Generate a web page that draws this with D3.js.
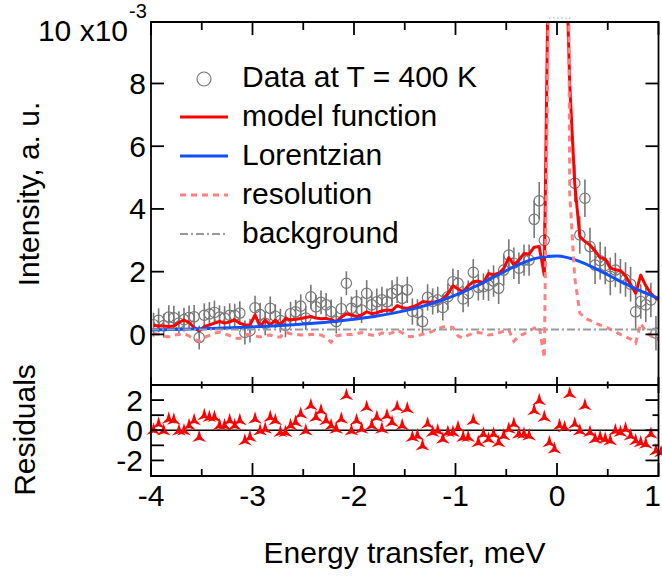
<!DOCTYPE html>
<html><head><meta charset="utf-8">
<script src="https://cdn.jsdelivr.net/npm/d3@7"></script>
<style>
html,body{margin:0;padding:0;background:#fff;}
svg{display:block;font-family:"Liberation Sans",Arial,Helvetica,sans-serif;}
</style></head>
<body><svg id="c" width="662" height="576"></svg>
<script>
// ---------- data ----------
const energy = [
-3.975,-3.925,-3.875,-3.825,-3.775,-3.725,-3.675,-3.625,-3.575,-3.525,
-3.475,-3.425,-3.375,-3.325,-3.275,-3.225,-3.175,-3.125,-3.075,-3.025,
-2.975,-2.925,-2.875,-2.825,-2.775,-2.725,-2.675,-2.625,-2.575,-2.525,
-2.475,-2.425,-2.375,-2.325,-2.275,-2.225,-2.175,-2.125,-2.075,-2.025,
-1.975,-1.925,-1.875,-1.825,-1.775,-1.725,-1.675,-1.625,-1.575,-1.525,
-1.475,-1.425,-1.375,-1.325,-1.275,-1.225,-1.175,-1.125,-1.075,-1.025,
-0.975,-0.925,-0.875,-0.825,-0.775,-0.725,-0.675,-0.625,-0.575,-0.525,
-0.475,-0.425,-0.375,-0.325,-0.275,-0.225,-0.175,-0.125,-0.075,-0.025,
0.025,0.075,0.125,0.175,0.225,0.275,0.325,0.375,0.425,0.475,
0.525,0.575,0.625,0.675,0.725,0.775,0.825,0.875,0.925,0.975,
1.025];
// measured intensity (x1e-3) and its error
const intensity = [
0.31,0.45,0.28,0.55,0.53,0.36,0.47,0.54,0.56,-0.10,
0.61,0.65,0.70,0.55,0.52,0.61,0.60,0.68,0.06,0.12,
0.85,0.63,0.35,0.83,0.58,0.44,0.29,0.66,0.72,0.90,
0.52,1.20,0.88,1.02,0.94,0.73,0.41,0.82,1.63,0.83,
1.04,0.78,1.31,0.94,1.04,1.10,1.04,1.31,1.42,1.15,
1.42,0.73,0.70,0.41,1.18,1.05,1.10,0.86,1.20,1.68,
1.63,1.13,1.30,1.98,1.50,1.52,1.57,1.70,1.47,2.05,
2.53,2.27,2.11,2.37,2.37,3.67,4.26,3.00,14.0,38.0,
52.0,33.0,12.5,4.82,3.17,4.34,2.80,2.21,2.35,2.20,
1.85,2.05,1.85,1.75,1.60,0.72,1.05,0.94,1.10,0.04];
const intensityErr = [
0.38,0.38,0.38,0.38,0.38,0.38,0.38,0.38,0.38,0.38,
0.38,0.38,0.38,0.38,0.38,0.38,0.38,0.38,0.38,0.38,
0.38,0.38,0.38,0.38,0.38,0.38,0.38,0.38,0.38,0.38,
0.38,0.38,0.38,0.38,0.38,0.38,0.38,0.38,0.38,0.38,
0.38,0.42,0.42,0.42,0.42,0.42,0.42,0.42,0.42,0.42,
0.42,0.42,0.42,0.42,0.42,0.42,0.42,0.42,0.42,0.42,
0.42,0.42,0.42,0.42,0.42,0.42,0.50,0.50,0.50,0.50,
0.50,0.50,0.50,0.50,0.50,0.60,0.60,0.60,0.80,0.80,
0.80,0.80,0.80,0.60,0.60,0.60,0.60,0.60,0.60,0.60,
0.60,0.55,0.55,0.55,0.55,0.55,0.55,0.55,0.55,0.55];
// model function
const model = [
0.28,0.27,0.27,0.25,0.27,0.38,0.46,0.38,0.22,0.11,
0.25,0.30,0.36,0.41,0.36,0.40,0.46,0.36,0.30,0.30,
0.62,0.25,0.46,0.30,0.46,0.30,0.51,0.46,0.48,0.51,
0.54,0.57,0.52,0.50,0.51,0.47,0.40,0.55,0.66,0.62,
0.57,0.62,0.72,0.66,0.69,0.75,0.78,0.76,0.92,0.85,
0.83,0.88,0.94,1.04,1.03,1.02,1.06,1.12,1.30,1.55,
1.45,1.35,1.55,1.68,1.70,1.64,1.94,1.90,1.95,2.10,
2.45,2.22,2.37,2.58,2.56,2.78,2.80,1.89,14.5,60.0,
85.0,14.0,8.0,4.8,3.12,2.96,2.85,2.66,2.45,2.40,
2.12,2.06,2.04,1.86,1.60,1.31,1.89,1.55,1.30,1.15,
1.08];
// resolution function
const resolution = [
0.03,0.00,-0.05,-0.08,-0.02,0.00,0.02,-0.05,-0.15,-0.22,
-0.10,-0.03,0.04,0.07,0.02,-0.04,-0.12,-0.13,-0.02,0.01,
-0.05,-0.08,-0.03,-0.02,-0.08,-0.08,0.07,0.02,0.00,-0.02,
-0.02,0.00,0.00,-0.02,-0.10,-0.25,-0.05,-0.02,0.00,0.00,
0.02,0.06,0.00,-0.02,-0.05,0.05,0.00,0.05,0.14,0.05,
-0.07,-0.07,-0.04,0.00,0.03,0.10,0.18,0.24,0.25,0.22,
-0.05,-0.12,-0.02,0.03,0.06,0.03,-0.02,0.00,0.05,0.10,
0.14,-0.22,-0.05,0.02,0.10,0.20,0.25,-0.75,13.0,45.0,
70.0,40.0,4.5,1.8,0.68,0.52,0.45,0.36,0.30,0.25,
0.16,0.09,0.00,-0.07,-0.15,-0.28,0.35,0.10,-0.05,-0.18,
-0.10];
// residuals
const residuals = [
0.07,0.47,0.02,0.80,0.73,0.02,0.02,0.36,0.69,-0.42,
1.02,0.91,0.91,0.36,0.36,0.69,0.36,0.69,-0.64,-0.42,
0.80,0.02,0.13,0.91,0.69,-0.09,-0.09,0.36,0.58,1.13,
0.02,1.69,0.91,1.36,0.69,0.36,0.13,0.80,2.36,0.02,
0.69,0.13,1.58,0.36,0.91,0.13,1.02,0.58,1.58,0.36,
1.47,-0.42,-0.31,-0.98,0.47,-0.09,0.02,-0.53,-0.09,-0.09,
0.24,-0.42,-0.42,0.69,-0.76,-0.20,-0.53,-0.20,-0.76,-0.31,
0.13,0.47,-0.20,-0.20,-0.31,1.36,2.02,0.91,-0.76,-1.20,
0.36,0.24,2.47,0.47,0.02,1.69,-0.09,-0.53,-0.42,-0.53,
-0.64,0.02,-0.09,0.13,-0.31,-0.64,-0.76,-0.87,-0.20,-1.31,
-1.42];
// Lorentzian component
const lorentzE = [-4,-3.8,-3.6,-3.4,-3.2,-3,-2.8,-2.6,-2.4,-2.2,-2,-1.8,-1.6,-1.4,-1.2,-1,-0.8,-0.6,-0.4,-0.2,0,0.2,0.4,0.6,0.8,1];
const lorentz = [0.139,0.153,0.170,0.189,0.211,0.238,0.270,0.308,0.355,0.413,0.484,0.573,0.687,0.831,1.016,1.25,1.536,1.865,2.191,2.432,2.496,2.353,2.066,1.731,1.416,1.150];
// background
const bgE = [-4, 1];
const bgVal = [0.16, 0.16];
// ticks / labels
const xTicks = [-4,-3,-2,-1,0,1];
const xMinor = [-3.5,-2.5,-1.5,-0.5,0.5];
const yTicks = [0,2,4,6,8];
const rTicks = [-2,0,2];
const rMinor = [-1,1];
const legendLabels = ["Data at T = 400 K","model function","Lorentzian","resolution","background"];

// ---------- scales ----------
const svg = d3.select("#c");
const L = 151, R = 658.5, T = 22, MB = 362, RT = 385, RB = 476;
const x = d3.scaleLinear().domain([-4,1]).range([L,R]);
const y = d3.scaleLinear().domain([-0.88,9.96]).range([MB,T]);
const yr = d3.scaleLinear().domain([-3,3]).range([475.5,RT]);

const RED="#ff0000", BLUE="#1050ff", PINK="#ff8080", GRAY="#999999", DGRAY="#777777";

svg.append("defs").append("clipPath").attr("id","mainclip")
  .append("rect").attr("x",L).attr("y",T).attr("width",R-L).attr("height",MB-T);

const main = svg.append("g").attr("clip-path","url(#mainclip)");

// data: error bars and circles
const pts = intensity.map((v,i)=>({e:energy[i], v, s:intensityErr[i]}));
main.append("g").selectAll("line").data(pts).join("line")
  .attr("x1",d=>x(d.e)).attr("x2",d=>x(d.e))
  .attr("y1",d=>y(d.v-d.s)).attr("y2",d=>y(d.v+d.s))
  .attr("stroke",DGRAY).attr("stroke-width",1.6);
main.append("g").selectAll("circle").data(pts).join("circle")
  .attr("cx",d=>x(d.e)).attr("cy",d=>y(d.v)).attr("r",5.2)
  .attr("fill","none").attr("stroke",DGRAY).attr("stroke-width",1.2);

const line = d3.line().x(d=>x(d[0])).y(d=>y(d[1]));
main.append("path").datum(model.map((v,i)=>[energy[i],v]))
  .attr("d",line).attr("fill","none").attr("stroke",RED).attr("stroke-width",3).attr("stroke-linejoin","round");
main.append("path").datum(lorentz.map((v,i)=>[lorentzE[i],v]))
  .attr("d",line.curve(d3.curveMonotoneX)).attr("fill","none").attr("stroke",BLUE).attr("stroke-width",3);
line.curve(d3.curveLinear);
main.append("path").datum(resolution.map((v,i)=>[energy[i],v]))
  .attr("d",line).attr("fill","none").attr("stroke",PINK).attr("stroke-width",3).attr("stroke-dasharray","6,5");
main.append("path").datum(bgVal.map((v,i)=>[bgE[i],v]))
  .attr("d",line).attr("fill","none").attr("stroke",GRAY).attr("stroke-width",2).attr("stroke-dasharray","8,3,2,3");

// off-scale data indicator
const off = pts.filter(d=>d.v-d.s>y.domain()[1]);
if(off.length){
  svg.append("line").attr("x1",x(off[0].e)).attr("x2",x(off[off.length-1].e)+3)
    .attr("y1",T-4).attr("y2",T-4).attr("stroke",DGRAY).attr("stroke-width",1.2).attr("stroke-dasharray","1,3");
}

// residuals
svg.append("line").attr("x1",L).attr("x2",R).attr("y1",yr(0)).attr("y2",yr(0)).attr("stroke","#000").attr("stroke-width",1.6);
const tri = "M0,-7 L2.2,0.5 L7,5.5 L0,3.2 L-7,5.5 L-2.2,0.5 Z";
svg.append("g").selectAll("path").data(residuals.map((v,i)=>[energy[i],v])).join("path")
  .attr("transform",d=>`translate(${x(d[0])},${yr(d[1])})`).attr("d",tri).attr("fill",RED);

// ---------- frame & ticks ----------
const ax = svg.append("g").attr("stroke","#000").attr("stroke-width",1.8).attr("fill","none");
ax.append("line").attr("x1",L).attr("x2",L).attr("y1",T-0.9).attr("y2",RB+0.9);
ax.append("line").attr("x1",R).attr("x2",R).attr("y1",T-0.9).attr("y2",RB+0.9);
ax.append("line").attr("x1",L).attr("x2",R).attr("y1",T).attr("y2",T);
ax.append("line").attr("x1",L).attr("x2",R).attr("y1",RT).attr("y2",RT);
ax.append("line").attr("x1",L).attr("x2",R).attr("y1",RB).attr("y2",RB);
// top ticks
xTicks.forEach(t=>{ax.append("line").attr("x1",x(t)).attr("x2",x(t)).attr("y1",T).attr("y2",T+13);});
xMinor.forEach(t=>{ax.append("line").attr("x1",x(t)).attr("x2",x(t)).attr("y1",T).attr("y2",T+8);});
// residual top ticks (crossing)
xTicks.forEach(t=>{ax.append("line").attr("x1",x(t)).attr("x2",x(t)).attr("y1",RT-8).attr("y2",RT+8);});
xMinor.forEach(t=>{ax.append("line").attr("x1",x(t)).attr("x2",x(t)).attr("y1",RT-3.5).attr("y2",RT+3.5);});
// bottom ticks
xTicks.forEach(t=>{ax.append("line").attr("x1",x(t)).attr("x2",x(t)).attr("y1",RB).attr("y2",RB-13);});
xMinor.forEach(t=>{ax.append("line").attr("x1",x(t)).attr("x2",x(t)).attr("y1",RB).attr("y2",RB-7);});
// main y ticks
yTicks.forEach(t=>{
  ax.append("line").attr("x1",L).attr("x2",L+13).attr("y1",y(t)).attr("y2",y(t));
  ax.append("line").attr("x1",R).attr("x2",R-13).attr("y1",y(t)).attr("y2",y(t));
});
// residual y ticks
rTicks.concat(rMinor).forEach(t=>{ax.append("line").attr("x1",L).attr("x2",L+13).attr("y1",yr(t)).attr("y2",yr(t));});
rTicks.forEach(t=>{ax.append("line").attr("x1",R).attr("x2",R-13).attr("y1",yr(t)).attr("y2",yr(t));});
rMinor.forEach(t=>{ax.append("line").attr("x1",R).attr("x2",R-6).attr("y1",yr(t)).attr("y2",yr(t));});

// ---------- text ----------
const txt = svg.append("g").attr("fill","#000").attr("font-size",30);
xTicks.forEach((t,i)=>{
  const last = i===xTicks.length-1;
  txt.append("text").attr("x",last?661:x(t)).attr("y",506)
    .attr("text-anchor",last?"end":"middle").text(String(t));
});
yTicks.forEach(t=>{txt.append("text").attr("x",146).attr("y",y(t)+10.5).attr("text-anchor","end").text(String(t));});
rTicks.forEach(t=>{txt.append("text").attr("x",143).attr("y",yr(t)+10.5).attr("text-anchor","end").text(String(t));});
txt.append("text").attr("x",128).attr("y",41).attr("text-anchor","end").text("10 x10");
txt.append("text").attr("x",129).attr("y",18).attr("font-size",20).text("-3");
txt.append("text").attr("x",404.5).attr("y",563).attr("text-anchor","middle").text("Energy transfer, meV");
txt.append("text").attr("transform","translate(39,194) rotate(-90)").attr("text-anchor","middle").text("Intensity, a. u.");
txt.append("text").attr("transform","translate(35,430) rotate(-90)").attr("text-anchor","middle").text("Residuals");

// ---------- legend ----------
const lg = svg.append("g");
const base = [87,126,165,204,243];
legendLabels.forEach((s,i)=>{
  lg.append("text").attr("x",242).attr("y",base[i]).attr("font-size",30).text(s);
});
lg.append("circle").attr("cx",204).attr("cy",base[0]-8).attr("r",7).attr("fill","none").attr("stroke",DGRAY).attr("stroke-width",1.2);
const sty = [[RED,3,null],[BLUE,3,null],[PINK,3,"6,5"],[GRAY,2,"8,3,2,3"]];
sty.forEach((s,i)=>{
  const ly = base[i+1]-9;
  const l = lg.append("line").attr("x1",180).attr("x2",228).attr("y1",ly).attr("y2",ly)
    .attr("stroke",s[0]).attr("stroke-width",s[1]);
  if(s[2]) l.attr("stroke-dasharray",s[2]);
});
</script></body></html>
